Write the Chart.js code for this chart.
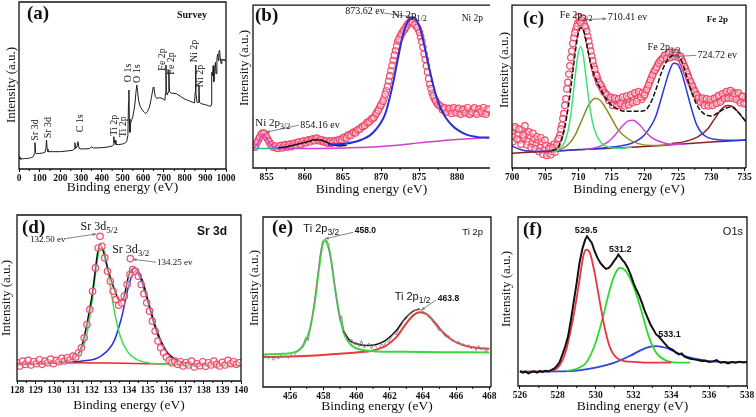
<!DOCTYPE html>
<html>
<head>
<meta charset="utf-8">
<title>XPS spectra</title>
<script src="https://cdn.jsdelivr.net/npm/chart.js@4.4.0/dist/chart.umd.min.js"></script>
<style>
  body { margin: 0; background: #fff; }
  #page { position: relative; width: 756px; height: 417px; overflow: hidden; }
  #page canvas { position: absolute; left: 0; top: 0; }
</style>
</head>
<body>
<div id="page">
  <canvas id="survey" width="756" height="417"></canvas>
  <canvas id="ni" width="756" height="417"></canvas>
  <canvas id="fe" width="756" height="417"></canvas>
  <canvas id="sr" width="756" height="417"></canvas>
  <canvas id="ti" width="756" height="417"></canvas>
  <canvas id="ox" width="756" height="417"></canvas>
</div>
<script>
// tick labels (binding energy, eV)
const surveyTicks = [0, 100, 200, 300, 400, 500, 600, 700, 800, 900, 1000]
const niTicks = [855, 860, 865, 870, 875, 880]
const feTicks = [700, 705, 710, 715, 720, 725, 730, 735]
const srTicks = [128, 129, 130, 131, 132, 133, 134, 135, 136, 137, 138, 139, 140]
const tiTicks = [456, 458, 460, 462, 464, 466, 468]
const oTicks = [526, 528, 530, 532, 534, 536, 538]

// (a) survey, [eV, counts a.u.]
const surveyCounts = [[0,37],[3,30],[6,34],[10,28],[15,33],[20,30],[30,32],[40,31],[50,33],[60,34],[70,38],[74,45],[77,79],[80,50],[85,46],[100,47],[115,48],[125,50],[130,62],[133,87],[136,60],[140,52],[160,52],[200,52],[230,54],[260,56],[266,60],[270,79],[274,62],[280,66],[285,82],[290,62],[300,60],[340,61],[350,66],[360,63],[400,64],[430,66],[450,69],[455,72],[458,97],[461,78],[464,86],[468,74],[480,73],[500,75],[510,77],[520,82],[526,100],[529,200],[531,237],[533,150],[536,110],[540,140],[545,148],[550,158],[555,175],[560,195],[565,230],[569,252],[573,232],[578,205],[585,188],[595,178],[605,170],[612,166],[620,172],[630,185],[640,215],[648,245],[652,242],[658,218],[665,212],[680,214],[695,211],[705,206],[708,230],[710,312],[712,235],[716,222],[722,232],[724,298],[727,232],[735,228],[760,226],[780,218],[800,210],[820,205],[840,200],[848,198],[851,230],[853,312],[855,230],[860,200],[866,200],[869,252],[872,200],[880,196],[900,193],[915,190],[925,188],[928,192],[931,290],[935,280],[938,310],[941,262],[944,285],[946,300],[949,320],[952,286],[956,330],[960,345],[963,325],[966,352],[969,356],[972,335],[976,316],[980,330],[985,325],[990,330],[995,324],[1000,328]]

// (b) Ni 2p, two interleaved passes of the measured points
const niData = [[853.3,68],[853.6,72],[853.9,86],[854.2,100],[854.5,108],[854.8,103],[855.1,90],[855.4,78],[855.7,70],[856.0,66],[856.3,62],[856.6,66],[856.9,70],[857.2,65],[857.5,72],[857.8,68],[858.1,74],[858.4,70],[858.7,77],[859.0,73],[859.3,79],[859.6,75],[859.9,83],[860.2,80],[860.5,87],[860.8,84],[861.1,90],[861.4,86],[861.7,89],[862.0,85],[862.3,82],[862.6,85],[862.9,78],[863.2,81],[863.5,76],[863.8,83],[864.1,80],[864.4,86],[864.7,88],[865.0,92],[865.3,95],[865.6,99],[865.9,103],[866.2,107],[866.5,111],[866.8,115],[867.1,119],[867.4,125],[867.7,129],[868.0,135],[868.3,141],[868.6,147],[868.9,153],[869.2,161],[869.5,173],[869.8,186],[870.1,199],[870.4,216],[870.7,239],[871.0,268],[871.3,300],[871.6,332],[871.9,362],[872.2,390],[872.5,405],[872.8,418],[873.1,428],[873.4,440],[873.7,448],[874.0,451],[874.3,446],[874.6,438],[874.9,428],[875.2,405],[875.5,372],[875.8,335],[876.1,296],[876.4,258],[876.7,232],[877.0,214],[877.3,202],[877.6,194],[877.9,188],[878.2,184],[878.5,178],[878.8,182],[879.1,175],[879.4,180],[879.7,172],[880.0,178],[880.3,170],[880.6,176],[880.9,182],[881.2,172],[881.5,168],[881.8,177],[882.1,181],[882.4,170],[882.7,174],[883.0,180],[883.3,168],[883.6,176],[883.9,172],[884.2,178]]
const niDataB = [[853.45,64],[853.75,80],[854.05,94],[854.35,106],[854.65,107],[854.95,96],[855.25,84],[855.55,72],[855.85,64],[856.15,68],[856.45,60],[856.75,68],[857.05,62],[857.35,70],[857.65,64],[857.95,72],[858.25,66],[858.55,75],[858.85,70],[859.15,80],[859.45,72],[859.75,82],[860.05,77],[860.35,85],[860.65,80],[860.95,88],[861.25,84],[861.55,92],[861.85,84],[862.15,88],[862.45,80],[862.75,83],[863.05,76],[863.35,84],[863.65,79],[863.95,85],[864.25,83],[864.55,88],[864.85,86],[865.15,95],[865.45,92],[865.75,102],[866.05,100],[866.35,110],[866.65,108],[866.95,118],[867.25,120],[867.55,128],[867.85,131],[868.15,140],[868.45,142],[868.75,152],[869.05,155],[869.35,168],[869.65,178],[869.95,193],[870.25,206],[870.55,228],[870.85,252],[871.15,284],[871.45,316],[871.75,348],[872.05,376],[872.35,398],[872.65,412],[872.95,424],[873.25,434],[873.55,445],[873.85,452],[874.15,448],[874.45,442],[874.75,434],[875.05,418],[875.35,390],[875.65,352],[875.95,315],[876.25,276],[876.55,245],[876.85,222],[877.15,208],[877.45,196],[877.75,192],[878.05,180],[878.35,186],[878.65,172],[878.95,184],[879.25,168],[879.55,186],[879.85,170],[880.15,184],[880.45,166],[880.75,180],[881.05,170],[881.35,186],[881.65,165],[881.95,172],[882.25,186],[882.55,166],[882.85,182],[883.15,174],[883.45,186],[883.75,166],[884.05,182]]
const niFit = [[863,72],[865,74],[866.5,80],[867.5,88],[868.5,100],[869.3,118],[870,140],[870.6,170],[871.2,222],[871.7,275],[872.2,335],[872.7,392],[873.2,435],[873.7,458],[874.2,465],[874.7,455],[875.2,425],[875.7,375],[876.2,320],[876.7,270],[877.2,225],[877.8,185],[878.5,155],[879.3,132],[880.2,115],[881.3,102],[882.5,96],[884.2,93]]
const niSat = [[856.5,62],[857.5,65],[858.5,70],[859.5,76],[860.5,82],[861.3,87],[862,86],[862.8,80],[863.6,72],[864.5,68],[865.5,70]]
const niBack = [[853.2,62],[853.8,75],[854.2,95],[854.5,105],[854.9,95],[855.4,75],[856,64],[857,60],[860,60],[864,61],[867,63],[870,66],[872,70],[874,75],[876,80],[878,84],[880,88],[882,91],[884.2,95]]
const niBase = [[853.2,60],[855,60],[857.5,60]]

// (c) Fe 2p
const feData = [[700.0,110],[700.3,95],[700.6,120],[700.9,100],[701.2,85],[701.5,115],[701.8,92],[702.1,105],[702.4,80],[702.7,98],[703.0,75],[703.3,90],[703.6,70],[703.9,85],[704.2,62],[704.5,80],[704.8,55],[705.1,70],[705.4,45],[705.7,65],[706.0,50],[706.3,72],[706.6,60],[706.9,85],[707.2,100],[707.5,130],[707.8,165],[708.1,210],[708.4,260],[708.7,310],[709.0,355],[709.3,395],[709.6,420],[709.9,440],[710.2,445],[710.5,448],[710.8,440],[711.1,425],[711.4,400],[711.7,370],[712.0,340],[712.3,310],[712.6,285],[712.9,270],[713.2,255],[713.5,245],[713.8,232],[714.1,225],[714.4,215],[714.7,210],[715.0,205],[715.3,198],[715.6,205],[715.9,195],[716.2,200],[716.5,190],[716.8,205],[717.1,195],[717.4,210],[717.7,200],[718.0,215],[718.3,205],[718.6,222],[718.9,210],[719.2,225],[719.5,208],[719.8,218],[720.1,230],[720.4,245],[720.7,260],[721.0,275],[721.3,290],[721.6,300],[721.9,312],[722.2,322],[722.5,330],[722.8,335],[723.1,340],[723.4,338],[723.7,345],[724.0,340],[724.3,348],[724.6,342],[724.9,346],[725.2,338],[725.5,330],[725.8,315],[726.1,300],[726.4,285],[726.7,268],[727.0,255],[727.3,240],[727.6,228],[727.9,218],[728.2,210],[728.5,205],[728.8,198],[729.1,205],[729.4,192],[729.7,200],[730.0,195],[730.3,205],[730.6,210],[730.9,200],[731.2,215],[731.5,205],[731.8,218],[732.1,225],[732.4,215],[732.7,228],[733.0,220],[733.3,230],[733.6,215],[733.9,222],[734.2,205],[734.5,215],[734.8,200],[735.1,210]]
const feDataB = [[700.15,80],[700.45,125],[700.75,88],[701.05,118],[701.35,72],[701.65,100],[701.95,128],[702.25,70],[702.55,110],[702.85,62],[703.15,105],[703.45,58],[703.75,95],[704.05,50],[704.35,92],[704.65,42],[704.95,85],[705.25,38],[705.55,58],[705.85,40],[706.15,62],[706.45,48],[706.75,70],[707.05,90],[707.35,118],[707.65,150],[707.95,190],[708.25,240],[708.55,285],[708.85,335],[709.15,378],[709.45,410],[709.75,430],[710.05,458],[710.35,440],[710.65,455],[710.95,430],[711.25,415],[711.55,385],[711.85,355],[712.15,325],[712.45,300],[712.75,280],[713.05,260],[713.35,252],[713.65,238],[713.95,228],[714.25,222],[714.55,205],[714.85,215],[715.15,190],[715.45,212],[715.75,188],[716.05,210],[716.35,196],[716.65,215],[716.95,188],[717.25,218],[717.55,192],[717.85,222],[718.15,198],[718.45,228],[718.75,202],[719.05,232],[719.35,215],[719.65,228],[719.95,222],[720.25,238],[720.55,252],[720.85,268],[721.15,282],[721.45,296],[721.75,306],[722.05,318],[722.35,326],[722.65,332],[722.95,342],[723.25,332],[723.55,350],[723.85,335],[724.15,352],[724.45,338],[724.75,350],[725.05,335],[725.35,338],[725.65,322],[725.95,308],[726.25,292],[726.55,276],[726.85,262],[727.15,248],[727.45,234],[727.75,222],[728.05,212],[728.35,200],[728.65,212],[728.95,190],[729.25,210],[729.55,188],[729.85,208],[730.15,190],[730.45,212],[730.75,196],[731.05,220],[731.35,200],[731.65,225],[731.95,210],[732.25,232],[732.55,212],[732.85,235],[733.15,212],[733.45,225],[733.75,208],[734.05,228],[734.35,198],[734.65,218],[734.95,195]]
const feEnvelope = [[706,52],[707,65],[707.8,110],[708.5,190],[709.2,300],[709.8,390],[710.3,425],[710.8,415],[711.3,370],[711.8,320],[712.5,275],[713.2,245],[714,215],[715,190],[716,178],[717,172],[718,172],[719,172],[720,175],[720.8,195],[721.6,235],[722.4,285],[723.2,322],[724,340],[724.8,342],[725.6,320],[726.4,270],[727.2,220],[728,185],[729,163],[730,158],[731,168],[732,180],[733,185],[734,170],[735.2,140]]
const fe32 = [[706,50],[707,55],[707.8,75],[708.4,110],[708.9,170],[709.4,260],[709.9,340],[710.3,369],[710.7,345],[711.1,280],[711.6,200],[712.1,140],[712.7,100],[713.5,75],[714.5,63],[716,60],[718,63]]
const feOlive = [[706,50],[707.5,58],[708.5,72],[709.5,100],[710.5,145],[711.5,190],[712.5,212],[713.3,205],[714,185],[715,150],[716,115],[717.5,88],[719,74],[721,68],[723,68]]
const feSat = [[711,56],[713,64],[714.5,80],[715.5,100],[716.5,125],[717.5,143],[718.2,145],[719,135],[720,112],[721,92],[722.5,78],[724,72],[726,72]]
const fe12 = [[700,66],[701,58],[702,52],[704,50],[707,52],[710,56],[713,60],[716,66],[718,75],[719.5,92],[720.5,115],[721.5,150],[722.3,200],[723,250],[723.7,295],[724.3,318],[724.9,315],[725.5,290],[726.2,240],[727,180],[727.8,130],[728.6,105],[729.5,92],[731,86],[733,84],[735.2,84]]
const feSat2 = [[724,74],[726,80],[728,95],[729.5,120],[730.5,150],[731.5,178],[732.4,190],[733.2,186],[734,170],[735.2,140]]
const feBack = [[700,45],[705,50],[710,55],[715,60],[720,65],[725,72],[730,79],[735.2,85]]

// (d) Sr 3d
const srData = [[128.0,55],[128.15,45],[128.3,60],[128.45,50],[128.6,62],[128.75,48],[128.9,58],[129.05,52],[129.2,64],[129.35,50],[129.5,60],[129.65,55],[129.8,66],[129.95,52],[130.1,62],[130.25,58],[130.4,68],[130.55,60],[130.7,70],[130.85,64],[131.0,75],[131.15,72],[131.3,85],[131.45,100],[131.6,130],[131.75,170],[131.9,215],[132.05,270],[132.2,340],[132.35,400],[132.45,435],[132.55,405],[132.7,370],[132.85,330],[133.0,300],[133.15,270],[133.3,245],[133.45,228],[133.6,235],[133.75,255],[133.9,290],[134.05,320],[134.2,335],[134.35,330],[134.5,315],[134.65,290],[134.8,262],[134.95,235],[135.1,210],[135.25,180],[135.4,150],[135.55,120],[135.7,100],[135.85,85],[136.0,72],[136.15,62],[136.3,55],[136.45,60],[136.6,50],[136.75,58],[136.9,45],[137.05,55],[137.2,48],[137.35,60],[137.5,42],[137.65,52],[137.8,46],[137.95,58],[138.1,44],[138.25,55],[138.4,48],[138.55,60],[138.7,50],[138.85,45],[139.0,56],[139.15,48],[139.3,62],[139.45,52],[139.6,58],[139.75,50],[139.9,55]]
const srEnvelope = [[128,50],[130,55],[131,68],[131.5,110],[132,250],[132.45,410],[132.9,330],[133.3,262],[133.5,240],[133.7,248],[134,320],[134.3,340],[134.7,305],[135.1,225],[135.5,150],[136,90],[136.6,62],[137.5,50]]
const sr52 = [[128,48],[129,50],[130,54],[130.8,62],[131.3,80],[131.7,130],[132,230],[132.25,340],[132.45,400],[132.65,395],[132.9,320],[133.2,215],[133.5,140],[133.9,90],[134.4,65],[135,55],[136,50],[137,46],[140,46]]
const sr32 = [[130,55],[131.5,60],[132.5,75],[133.2,120],[133.6,190],[134,290],[134.3,330],[134.6,310],[135,240],[135.4,160],[135.8,105],[136.3,70],[137,55],[138,50]]
const srBack = [[129.5,55],[133,54],[136,51]]

// (e) Ti 2p
const tiData = [[454.4,88],[454.55,95],[454.7,85],[454.85,92],[455.0,80],[455.15,90],[455.3,84],[455.45,96],[455.6,88],[455.75,94],[455.9,86],[456.05,98],[456.2,92],[456.35,102],[456.5,110],[456.65,118],[456.8,130],[456.95,150],[457.1,140],[457.2,175],[457.35,215],[457.5,270],[457.65,330],[457.8,395],[457.95,440],[458.1,445],[458.25,425],[458.4,400],[458.55,355],[458.7,300],[458.85,245],[459.0,200],[459.1,215],[459.25,165],[459.4,150],[459.55,135],[459.7,145],[459.85,128],[460.0,135],[460.15,122],[460.3,140],[460.45,118],[460.6,125],[460.75,132],[460.9,115],[461.05,128],[461.2,120],[461.35,112],[461.5,130],[461.65,125],[461.8,140],[461.95,135],[462.1,150],[462.25,160],[462.4,158],[462.55,175],[462.7,185],[462.85,200],[463.0,205],[463.15,218],[463.3,222],[463.45,228],[463.6,232],[463.75,236],[463.9,230],[464.05,226],[464.2,222],[464.35,210],[464.5,205],[464.65,192],[464.8,185],[464.95,170],[465.1,172],[465.25,158],[465.4,150],[465.55,155],[465.7,140],[465.85,142],[466.0,132],[466.15,138],[466.3,125],[466.45,130],[466.6,120],[466.75,128],[466.9,115],[467.05,122],[467.2,110],[467.35,125],[467.5,112],[467.65,118],[467.8,105],[467.95,115]]
const tiEnvelope = [[459.2,170],[459.6,140],[460,130],[460.6,125],[461.2,128],[461.8,142],[462.4,170],[462.9,205],[463.4,228],[463.8,235]]
const ti32 = [[454.4,98],[455.5,100],[456.3,105],[456.8,125],[457.2,175],[457.5,260],[457.75,360],[458,435],[458.2,440],[458.45,390],[458.7,300],[459,210],[459.3,155],[459.7,125],[460.3,112],[461,108],[463,106],[465,105],[468,104]]
const ti12 = [[454.4,90],[456,92],[457.5,95],[459,100],[460,104],[461,110],[461.8,125],[462.4,150],[462.9,185],[463.4,215],[463.8,225],[464.2,220],[464.7,195],[465.2,165],[465.8,140],[466.5,125],[467.2,118],[468,115]]

// (f) O 1s
const oData = [[526.0,45],[526.15,40],[526.3,43],[526.45,38],[526.6,42],[526.75,44],[526.9,40],[527.05,45],[527.2,42],[527.35,46],[527.5,44],[527.65,48],[527.8,52],[527.95,60],[528.1,72],[528.25,95],[528.4,120],[528.55,150],[528.7,200],[528.85,255],[529.0,310],[529.15,370],[529.3,412],[529.45,440],[529.55,450],[529.65,442],[529.8,430],[529.95,405],[530.1,385],[530.25,370],[530.4,360],[530.55,352],[530.7,355],[530.85,365],[531.0,378],[531.1,385],[531.2,395],[531.3,388],[531.4,380],[531.55,370],[531.7,355],[531.85,335],[532.0,310],[532.15,290],[532.3,272],[532.45,250],[532.6,225],[532.75,205],[532.9,185],[533.05,170],[533.2,155],[533.35,148],[533.5,138],[533.65,128],[533.8,118],[533.95,112],[534.1,108],[534.25,100],[534.4,95],[534.55,98],[534.7,88],[534.85,85],[535.0,82],[535.2,80],[535.4,78],[535.6,75],[535.8,76],[536.0,72],[536.2,74],[536.4,78],[536.6,70],[536.8,72],[537.0,68],[537.2,72],[537.4,70],[537.6,73],[537.8,71],[538.0,72]]
const oLattice = [[526,43],[527.5,45],[528,55],[528.4,100],[528.8,200],[529.1,300],[529.35,390],[529.5,410],[529.7,400],[529.95,340],[530.2,260],[530.5,170],[530.8,110],[531.1,85],[531.5,75],[532.2,72],[533,70],[534,70]]
const oVacancy = [[528.5,45],[529,52],[529.5,70],[530,130],[530.4,210],[530.8,300],[531.1,345],[531.3,355],[531.6,345],[532,300],[532.4,230],[532.8,150],[533.2,100],[533.6,80],[534,72],[535,70]]
const oAdsorbed = [[526,43],[528,44],[529,46],[530,55],[531,70],[531.8,90],[532.4,108],[532.9,118],[533.2,120],[533.7,115],[534.3,100],[535,85],[536,75],[537,72],[538,72]]

const SERIF = "'Liberation Serif', 'Times New Roman', serif"
const SANS = "'Liberation Sans', Arial, sans-serif"

const pts = (arr) => arr.map(([x, y]) => ({ x, y }))

const curve = (data, color, extra) => Object.assign({
  data: pts(data),
  borderColor: color,
  borderWidth: 1.5,
  pointRadius: 0,
  cubicInterpolationMode: 'monotone',
  fill: false
}, extra || {})

const rings = (data) => ({
  data: pts(data),
  showLine: false,
  pointRadius: 3.2,
  pointBorderWidth: 1.2,
  borderColor: '#ef4a6c',
  pointBorderColor: '#ef4a6c',
  pointBackgroundColor: 'rgba(255,235,238,0.45)'
})

// frame, minor ticks, y title and the peak annotations
const decor = {
  id: 'decor',
  afterDraw: (chart, args, opts) => {
    const { ctx, chartArea: a, scales: { x, y } } = chart
    ctx.save()

    ctx.strokeStyle = '#111'
    ctx.lineWidth = 1.3
    ctx.beginPath()
    ctx.moveTo(a.right, a.bottom)
    ctx.lineTo(a.left, a.bottom)
    ctx.lineTo(a.left, a.top)
    ctx.lineTo(a.right, a.top)
    if (!opts.openRight) ctx.lineTo(a.right, a.bottom)
    ctx.stroke()

    const majors = x.ticks.map(t => t.value)
    ctx.lineWidth = 1
    ctx.beginPath()
    for (let i = 0; i < majors.length - 1; i++) {
      const px = x.getPixelForValue((majors[i] + majors[i + 1]) / 2)
      ctx.moveTo(px, a.bottom)
      ctx.lineTo(px, a.bottom + 2)
    }
    ctx.stroke()

    ctx.fillStyle = '#111'
    ctx.textBaseline = 'middle'

    if (opts.yTitle) {
      ctx.save()
      ctx.translate(opts.yTitle[0], opts.yTitle[1])
      ctx.rotate(-Math.PI / 2)
      ctx.font = `13px ${SERIF}`
      ctx.textAlign = 'center'
      ctx.fillText('Intensity (a.u.)', 0, 0)
      ctx.restore()
    }

    for (const c of opts.corner || []) {
      ctx.font = c.font
      ctx.textAlign = c.right ? 'right' : 'left'
      ctx.fillText(c.text, c.right ? a.right - c.dx : a.left + c.dx, a.top + c.dy)
    }

    ctx.strokeStyle = '#777'
    ctx.fillStyle = '#777'
    ctx.lineWidth = 0.9
    for (const [x1, y1, x2, y2] of opts.arrows || []) {
      const p1 = [x.getPixelForValue(x1), y.getPixelForValue(y1)]
      const p2 = [x.getPixelForValue(x2), y.getPixelForValue(y2)]
      ctx.beginPath()
      ctx.moveTo(p1[0], p1[1])
      ctx.lineTo(p2[0], p2[1])
      ctx.stroke()
      const ang = Math.atan2(p2[1] - p1[1], p2[0] - p1[0])
      ctx.beginPath()
      ctx.moveTo(p2[0], p2[1])
      ctx.lineTo(p2[0] - 4 * Math.cos(ang - 0.4), p2[1] - 4 * Math.sin(ang - 0.4))
      ctx.lineTo(p2[0] - 4 * Math.cos(ang + 0.4), p2[1] - 4 * Math.sin(ang + 0.4))
      ctx.fill()
    }

    for (const [rx, ry] of opts.rings || []) {
      ctx.strokeStyle = '#ef4a6c'
      ctx.lineWidth = 1.2
      ctx.beginPath()
      ctx.arc(x.getPixelForValue(rx), y.getPixelForValue(ry), 3.2, 0, Math.PI * 2)
      ctx.stroke()
    }

    ctx.fillStyle = '#111'
    for (const n of opts.notes || []) {
      ctx.save()
      ctx.translate(x.getPixelForValue(n.x), y.getPixelForValue(n.y))
      if (n.rotate) ctx.rotate(-Math.PI / 2)
      ctx.font = n.font
      ctx.textAlign = n.align || 'left'
      ctx.fillText(n.text, 0, 0)
      if (n.sub) {
        const w = ctx.measureText(n.text).width
        ctx.font = n.subFont
        ctx.textAlign = 'left'
        ctx.fillText(n.sub, w, 4)
      }
      ctx.restore()
    }

    ctx.restore()
  }
}

// box = [left, top, right, bottom, x title centre] of each panel on the page
const makeChart = (id, p) => {
  const [L, T, R, B, titleY] = p.box
  const xh = titleY - B + 7.8
  return new Chart(document.getElementById(id), {
    type: 'line',
    data: { datasets: p.datasets },
    options: {
      responsive: false,
      animation: false,
      events: [],
      devicePixelRatio: 1,
      layout: { padding: { left: L, top: T, right: 756 - R, bottom: 417 - B - xh } },
      plugins: {
        legend: { display: false },
        tooltip: { enabled: false },
        decor: p.decor
      },
      scales: {
        x: {
          type: 'linear',
          min: p.xMin,
          max: p.xMax,
          afterBuildTicks: (s) => { s.ticks = p.ticks.map(v => ({ value: v })) },
          afterFit: (s) => { s.height = xh },
          grid: { drawOnChartArea: false, tickLength: 3, color: '#111', lineWidth: 1 },
          border: { display: false },
          ticks: {
            autoSkip: false, maxRotation: 0, padding: 1, color: '#111',
            font: { family: SERIF, size: 9.5, weight: 'bold' },
            callback: (v) => String(v)
          },
          title: { display: true, text: 'Binding energy (eV)', color: '#111', padding: 0, font: { family: SERIF, size: 13.5 } }
        },
        y: { display: false, min: 0, max: p.yMax }
      }
    },
    plugins: [decor]
  })
}

const f10 = `10px ${SERIF}`
const sub8 = `8px ${SERIF}`

makeChart('survey', {
  box: [19, 2, 226, 169, 188], xMin: 0, xMax: 1000, yMax: 501, ticks: surveyTicks,
  datasets: [curve(surveyCounts, '#1c1c1c', { borderWidth: 1, cubicInterpolationMode: 'default', tension: 0 })],
  decor: {
    yTitle: [12, 85],
    corner: [
      { text: '(a)', dx: 8, dy: 12, font: `bold 19px ${SERIF}` },
      { text: 'Survey', dx: 19, dy: 13, right: true, font: `bold 10px ${SERIF}` }
    ],
    notes: [
      { x: 78, y: 85, text: 'Sr 3d', rotate: true, font: f10 },
      { x: 140, y: 92, text: 'Sr 3d', rotate: true, font: f10 },
      { x: 295, y: 110, text: 'C 1s', rotate: true, font: f10 },
      { x: 459, y: 100, text: 'Ti 2p', rotate: true, font: f10 },
      { x: 502, y: 95, text: 'Ti 2p', rotate: true, font: f10 },
      { x: 527, y: 260, text: 'O 1s', rotate: true, font: f10 },
      { x: 570, y: 258, text: 'O 1s', rotate: true, font: f10 },
      { x: 691, y: 295, text: 'Fe 2p', rotate: true, font: f10 },
      { x: 734, y: 283, text: 'Fe 2p', rotate: true, font: f10 },
      { x: 845, y: 320, text: 'Ni 2p', rotate: true, font: f10 },
      { x: 874, y: 245, text: 'Ni 2p', rotate: true, font: f10 }
    ]
  }
})

makeChart('ni', {
  box: [253, 2, 490, 168, 190], xMin: 853.2, xMax: 884.3, yMax: 502, ticks: niTicks,
  datasets: [
    curve(niFit, '#2430dc', { borderWidth: 2 }),
    curve(niSat, '#111', { borderWidth: 1.5 }),
    curve(niBack, '#d43ad4'),
    curve(niBase, '#22c0a0'),
    rings(niData.concat(niDataB))
  ],
  decor: {
    yTitle: [245, 68],
    openRight: true,
    corner: [
      { text: '(b)', dx: 2, dy: 11, font: `bold 19px ${SERIF}` },
      { text: 'Ni 2p', dx: 7, dy: 13, right: true, font: `9.5px ${SERIF}` }
    ],
    arrows: [[870.3, 478, 874.0, 466], [859.2, 132, 854.9, 110]],
    notes: [
      { x: 865.3, y: 482, text: '873.62 ev', font: f10 },
      { x: 871.4, y: 472, text: 'Ni 2p', sub: '1/2', font: `11px ${SERIF}`, subFont: sub8 },
      { x: 853.5, y: 139, text: 'Ni 2p', sub: '3/2', font: `11px ${SERIF}`, subFont: sub8 },
      { x: 859.4, y: 130, text: '854.16 ev', font: f10 }
    ]
  }
})

makeChart('fe', {
  box: [512, 1, 746, 168, 190], xMin: 700, xMax: 735.2, yMax: 494, ticks: feTicks,
  datasets: [
    curve(feEnvelope, '#111', { borderWidth: 1.5, borderDash: [5, 2] }),
    curve(fe32, '#3fe27a'),
    curve(feOlive, '#8c8a22'),
    curve(feSat, '#cf44d2'),
    curve(fe12, '#2a38dc'),
    curve(feSat2, '#8e1f22'),
    curve(feBack, '#8e1f22'),
    rings(feData.concat(feDataB))
  ],
  decor: {
    yTitle: [505, 70],
    corner: [
      { text: '(c)', dx: 11, dy: 14, font: `bold 19px ${SERIF}` },
      { text: 'Fe 2p', dx: 18, dy: 14, right: true, font: `bold 9px ${SERIF}` }
    ],
    arrows: [[710.6, 450, 714.2, 453], [727.7, 342, 724.4, 338]],
    notes: [
      { x: 707.2, y: 464, text: 'Fe 2p', sub: '3/2', font: f10, subFont: sub8 },
      { x: 714.4, y: 457, text: '710.41 ev', font: f10 },
      { x: 720.4, y: 367, text: 'Fe 2p', sub: '1/2', font: f10, subFont: sub8 },
      { x: 727.9, y: 342, text: '724.72 ev', font: f10 }
    ]
  }
})

makeChart('sr', {
  box: [17, 215, 241, 381, 406], xMin: 128, xMax: 140, yMax: 499, ticks: srTicks,
  datasets: [
    rings(srData),
    curve(srEnvelope, '#111', { borderWidth: 1.5 }),
    curve(sr52, '#3ddc5a'),
    curve(sr32, '#2430dc'),
    curve(srBack, '#e82828')
  ],
  decor: {
    yTitle: [7, 298],
    corner: [
      { text: '(d)', dx: 5, dy: 13, font: `bold 19px ${SERIF}` },
      { text: 'Sr 3d', dx: 14, dy: 17, right: true, font: `bold 12px ${SANS}` }
    ],
    arrows: [[130.6, 428, 132.25, 442], [135.45, 357, 134.2, 366]],
    rings: [[134.07, 368]],
    notes: [
      { x: 131.4, y: 463, text: 'Sr 3d', sub: '5/2', font: `12px ${SERIF}`, subFont: `9px ${SERIF}` },
      { x: 128.7, y: 424, text: '132.50 ev', font: `9px ${SERIF}` },
      { x: 133.1, y: 394, text: 'Sr 3d', sub: '3/2', font: `12px ${SERIF}`, subFont: `9px ${SERIF}` },
      { x: 135.5, y: 355, text: '134.25 ev', font: `9px ${SERIF}` }
    ]
  }
})

makeChart('ti', {
  box: [263, 217, 491, 387, 407], xMin: 454.37, xMax: 468.1, yMax: 512, ticks: tiTicks,
  datasets: [
    curve(tiData, '#8a8a8a', { borderWidth: 1, cubicInterpolationMode: 'default', tension: 0 }),
    curve(tiEnvelope, '#111', { borderWidth: 1.5 }),
    curve(ti32, '#3ad83a', { borderWidth: 2 }),
    curve(ti12, '#e83a3a', { borderWidth: 2 })
  ],
  decor: {
    yTitle: [255, 288],
    corner: [
      { text: '(e)', dx: 9, dy: 11, font: `bold 19px ${SERIF}` },
      { text: 'Ti 2p', dx: 8, dy: 15, right: true, font: `9.5px ${SANS}` }
    ],
    arrows: [[459.8, 466, 458.1, 446], [464.8, 262, 463.9, 232]],
    notes: [
      { x: 456.8, y: 476, text: 'Ti 2p', sub: '3/2', font: `11px ${SANS}`, subFont: `8.5px ${SANS}` },
      { x: 459.9, y: 470, text: '458.0', font: `bold 8.5px ${SANS}` },
      { x: 462.3, y: 271, text: 'Ti 2p', sub: '1/2', font: `11px ${SANS}`, subFont: `8.5px ${SANS}` },
      { x: 464.9, y: 265, text: '463.8', font: `bold 8.5px ${SANS}` }
    ]
  }
})

makeChart('ox', {
  box: [518, 217, 747, 386, 407], xMin: 525.9, xMax: 538, yMax: 508, ticks: oTicks,
  datasets: [
    curve(oData, '#111', { borderWidth: 2, cubicInterpolationMode: 'default', tension: 0 }),
    curve(oLattice, '#ea3444', { borderWidth: 1.8 }),
    curve(oVacancy, '#2ed82e', { borderWidth: 1.8 }),
    curve(oAdsorbed, '#2a44dc', { borderWidth: 1.8 })
  ],
  decor: {
    yTitle: [507, 289],
    corner: [
      { text: '(f)', dx: 5, dy: 13, font: `bold 19px ${SERIF}` },
      { text: 'O1s', dx: 4, dy: 15, right: true, font: `11px ${SANS}` }
    ],
    notes: [
      { x: 529.5, y: 466, text: '529.5', align: 'center', font: `bold 9px ${SANS}` },
      { x: 531.3, y: 409, text: '531.2', align: 'center', font: `bold 9px ${SANS}` },
      { x: 533.9, y: 156, text: '533.1', align: 'center', font: `bold 9px ${SANS}` }
    ]
  }
})
</script>
</body>
</html>
